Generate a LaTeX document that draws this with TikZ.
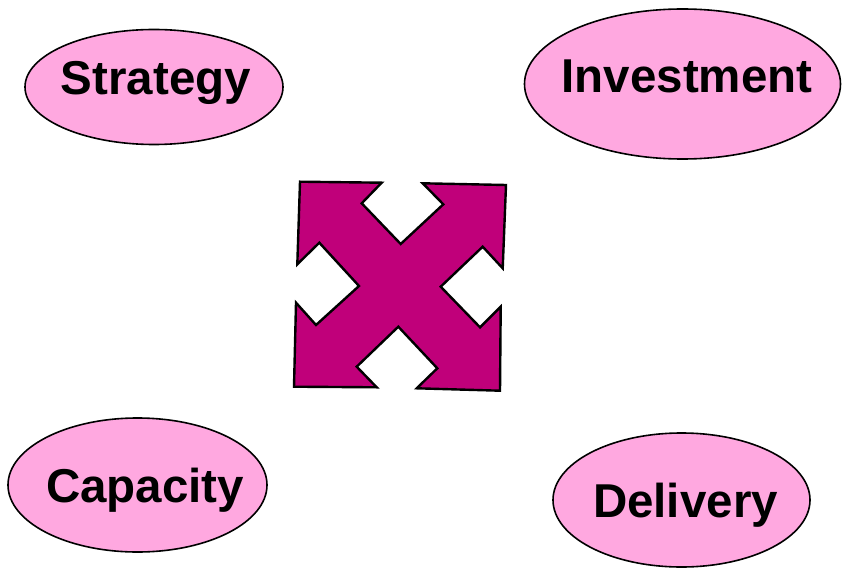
\documentclass[tikz,border=0pt]{standalone}
\usepackage{fontspec}
\setmainfont{Liberation Sans}
\usetikzlibrary{shapes.geometric}
\definecolor{ovalpink}{RGB}{255,168,224}
\definecolor{arrowmag}{RGB}{192,0,122}
\tikzset{
  oval/.style={ellipse, draw=black, line width=1.6pt, fill=ovalpink, inner sep=0pt},
  lbl/.style={anchor=base, font=\fontsize{47.5}{50}\selectfont\bfseries, inner sep=0pt},
  quad/.style={draw=black, line width=2.4pt, fill=arrowmag, line join=miter}
}
\begin{document}
\begin{tikzpicture}[x=1pt,y=-1pt]
\useasboundingbox (0,0) rectangle (842,569);
% ellipses
\node[oval, minimum width=258pt, minimum height=115pt] (strategy) at (154,87) {};
\node[lbl] (strategyt) at (156,95) {Strategy};
\node[oval, minimum width=316pt, minimum height=150pt] (investment) at (682.5,84) {};
\node[lbl] (investmentt) at (687,93) {Investment};
\node[oval, minimum width=259pt, minimum height=134pt] (capacity) at (137.5,485) {};
\node[lbl] (capacityt) at (145,502) {Capacity};
\node[oval, minimum width=257pt, minimum height=134pt] (delivery) at (681.5,500) {};
\node[lbl] (deliveryt) at (685.5,517) {Delivery};
% four-way arrow
\draw[quad] (300,181.7) -- (381.7,182.7) -- (361.7,203.3) -- (400.7,244) -- (443.3,204.3)
  -- (422.7,183.3) -- (506,185) -- (502.7,268.3) -- (482.7,246.7) -- (440.7,286.7)
  -- (480,327.3) -- (500.7,306.7) -- (500,390.7) -- (416.7,388.3) -- (437.3,368.3)
  -- (398.3,326.7) -- (356.7,366.7) -- (376.7,387.3) -- (294,386.7) -- (296,302.7)
  -- (316,325) -- (359,286) -- (319.3,242.7) -- (297.3,264.3) -- cycle;
\end{tikzpicture}
\end{document}
